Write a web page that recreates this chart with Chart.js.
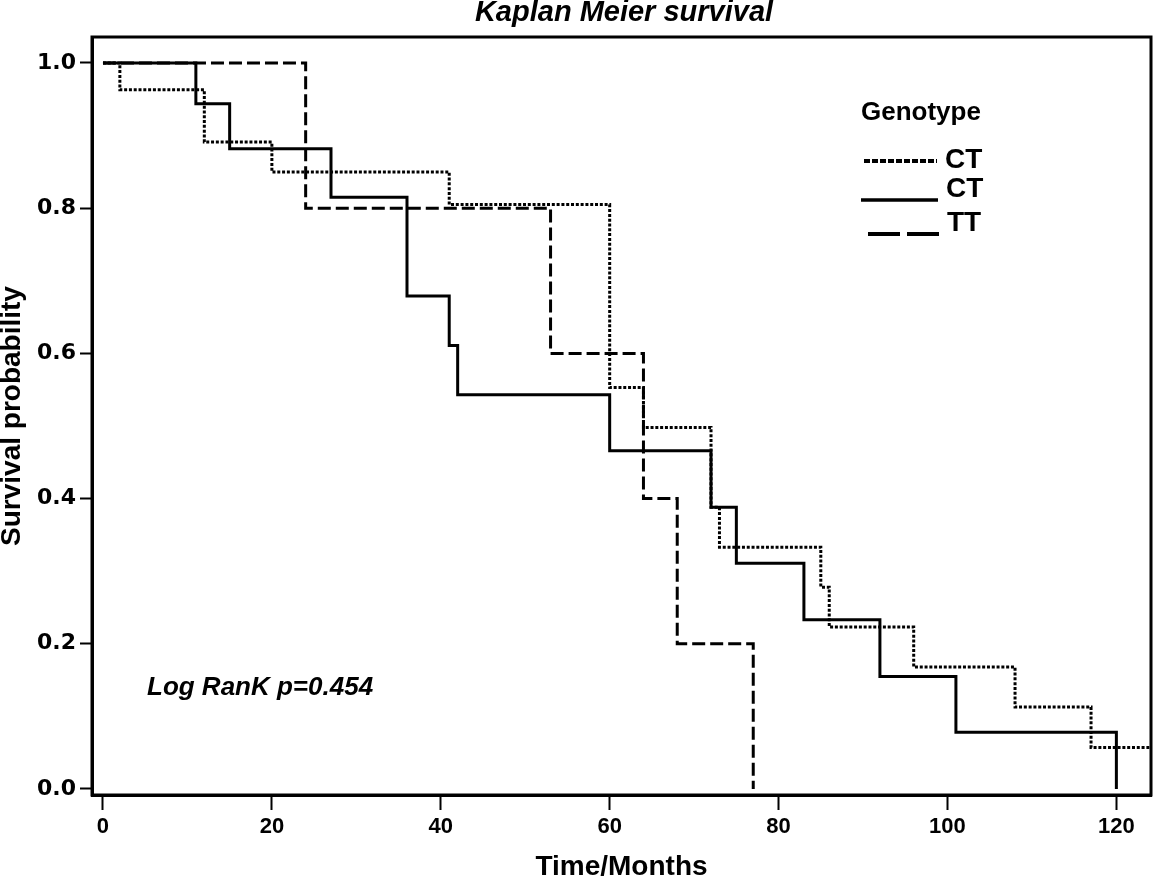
<!DOCTYPE html>
<html>
<head>
<meta charset="utf-8">
<script src="https://cdn.jsdelivr.net/npm/chart.js@4"></script>
<style>
html,body{margin:0;padding:0;background:#fff;}
#wrap{width:1153px;height:878px;}
</style>
</head>
<body>
<div id="wrap"><canvas id="c" width="1153" height="878"></canvas></div>
<script>
// ---- Data (Kaplan-Meier step points) ----
const timesCTdotted = [0, 2, 12, 20, 41, 60, 64, 72, 73, 85, 86, 96, 108, 117, 126];
const survCTdotted  = [1.0, 0.963, 0.891, 0.850, 0.805, 0.553, 0.498, 0.388, 0.333, 0.278, 0.223, 0.168, 0.113, 0.057, 0.057];

const timesCTsolid = [0, 11, 15, 27, 36, 41, 42, 60, 72, 75, 83, 92, 101, 120];
const survCTsolid  = [1.0, 0.944, 0.882, 0.815, 0.679, 0.611, 0.543, 0.466, 0.388, 0.311, 0.233, 0.155, 0.078, 0.0];

const timesTT = [0, 24, 53, 64, 68, 77];
const survTT  = [1.0, 0.8, 0.6, 0.4, 0.2, 0.0];

const xTickValues = [0, 20, 40, 60, 80, 100, 120];
const yTickValues = [0.0, 0.2, 0.4, 0.6, 0.8, 1.0];

const legendTitle = 'Genotype';
const legendLabels = ['CT', 'CT', 'TT'];
const chartTitle = 'Kaplan Meier survival';
const xTitle = 'Time/Months';
const yTitle = 'Survival probability';
const noteText = 'Log RanK p=0.454';

function toPoints(ts, ss) { return ts.map((t, i) => ({x: t, y: ss[i]})); }

const extras = {
  id: 'extras',
  afterDraw(chart) {
    const ctx = chart.ctx;
    const a = chart.chartArea;
    ctx.save();
    // plot frame
    ctx.strokeStyle = '#000';
    ctx.lineWidth = 3;
    ctx.setLineDash([]);
    ctx.strokeRect(a.left, a.top, a.right - a.left, a.bottom - a.top);

    ctx.fillStyle = '#000';
    ctx.textBaseline = 'alphabetic';
    // title
    ctx.font = 'italic bold 29px "Liberation Sans", Arial, sans-serif';
    ctx.textAlign = 'center';
    ctx.fillText(chartTitle, 624, 21);
    // log rank note
    ctx.font = 'italic bold 26px "Liberation Sans", Arial, sans-serif';
    ctx.textAlign = 'left';
    ctx.fillText(noteText, 147, 695);

    // legend
    ctx.font = 'bold 26px "Liberation Sans", Arial, sans-serif';
    ctx.fillText(legendTitle, 861, 120);
    ctx.font = 'bold 28px "Liberation Sans", Arial, sans-serif';
    ctx.fillText(legendLabels[0], 945, 168);
    ctx.fillText(legendLabels[1], 946, 197);
    ctx.fillText(legendLabels[2], 947, 231);

    ctx.lineCap = 'butt';
    // row 1 short dashes
    ctx.lineWidth = 4;
    ctx.setLineDash([6, 2]);
    ctx.beginPath(); ctx.moveTo(864, 161); ctx.lineTo(937, 161); ctx.stroke();
    // row 2 solid
    ctx.lineWidth = 3.5;
    ctx.setLineDash([]);
    ctx.beginPath(); ctx.moveTo(861, 200); ctx.lineTo(938, 200); ctx.stroke();
    // row 3 long dashes
    ctx.lineWidth = 4;
    ctx.setLineDash([32, 7]);
    ctx.beginPath(); ctx.moveTo(868, 234); ctx.lineTo(939, 234); ctx.stroke();
    ctx.restore();
  }
};

const baseDs = {
  borderColor: '#000',
  borderWidth: 3,
  pointRadius: 0,
  stepped: true,
  fill: false,
  tension: 0,
  borderCapStyle: 'butt'
};

new Chart(document.getElementById('c'), {
  type: 'line',
  data: {
    datasets: [
      Object.assign({}, baseDs, {label: 'CT (dotted)', data: toPoints(timesCTdotted, survCTdotted), borderDash: [3, 1.8]}),
      Object.assign({}, baseDs, {label: 'TT', data: toPoints(timesTT, survTT), borderDash: [13, 5]}),
      Object.assign({}, baseDs, {label: 'CT (solid)', data: toPoints(timesCTsolid, survCTsolid)})
    ]
  },
  options: {
    responsive: false,
    animation: false,
    devicePixelRatio: 1,
    layout: {padding: {top: 37, right: 2, left: 0, bottom: 0}},
    plugins: {legend: {display: false}, tooltip: {enabled: false}, title: {display: false}},
    scales: {
      x: {
        type: 'linear',
        min: -1.3,
        max: 124.1,
        afterBuildTicks(scale) { scale.ticks = xTickValues.map(v => ({value: v})); },
        afterFit(scale) { scale.height = 83; },
        ticks: {
          color: '#000',
          font: {family: '"Liberation Sans", Arial, sans-serif', size: 22, weight: 'bold'},
          padding: 4,
          maxRotation: 0,
          autoSkip: false,
          callback: v => String(v)
        },
        grid: {drawOnChartArea: false, drawTicks: true, tickLength: 15, tickWidth: 2, tickColor: '#000'},
        border: {display: true, color: '#000', width: 3},
        title: {display: true, text: xTitle, color: '#000', padding: 0,
          font: {family: '"Liberation Sans", Arial, sans-serif', size: 28, weight: 'bold', lineHeight: 0.8}}
      },
      y: {
        type: 'linear',
        min: -0.0083,
        max: 1.0358,
        afterBuildTicks(scale) { scale.ticks = yTickValues.map(v => ({value: v})); },
        afterFit(scale) { scale.width = 92; },
        ticks: {
          color: '#000',
          font: {family: '"DejaVu Sans", sans-serif', size: 22, weight: 'bold'},
          padding: 4,
          autoSkip: false,
          callback: v => Number(v).toFixed(1)
        },
        grid: {drawOnChartArea: false, drawTicks: true, tickLength: 12, tickWidth: 2, tickColor: '#000'},
        border: {display: true, color: '#000', width: 3},
        title: {display: true, text: yTitle, color: '#000', padding: 0,
          font: {family: '"Liberation Sans", Arial, sans-serif', size: 28, weight: 'bold', lineHeight: 0.9}}
      }
    }
  },
  plugins: [extras]
});
</script>
</body>
</html>
